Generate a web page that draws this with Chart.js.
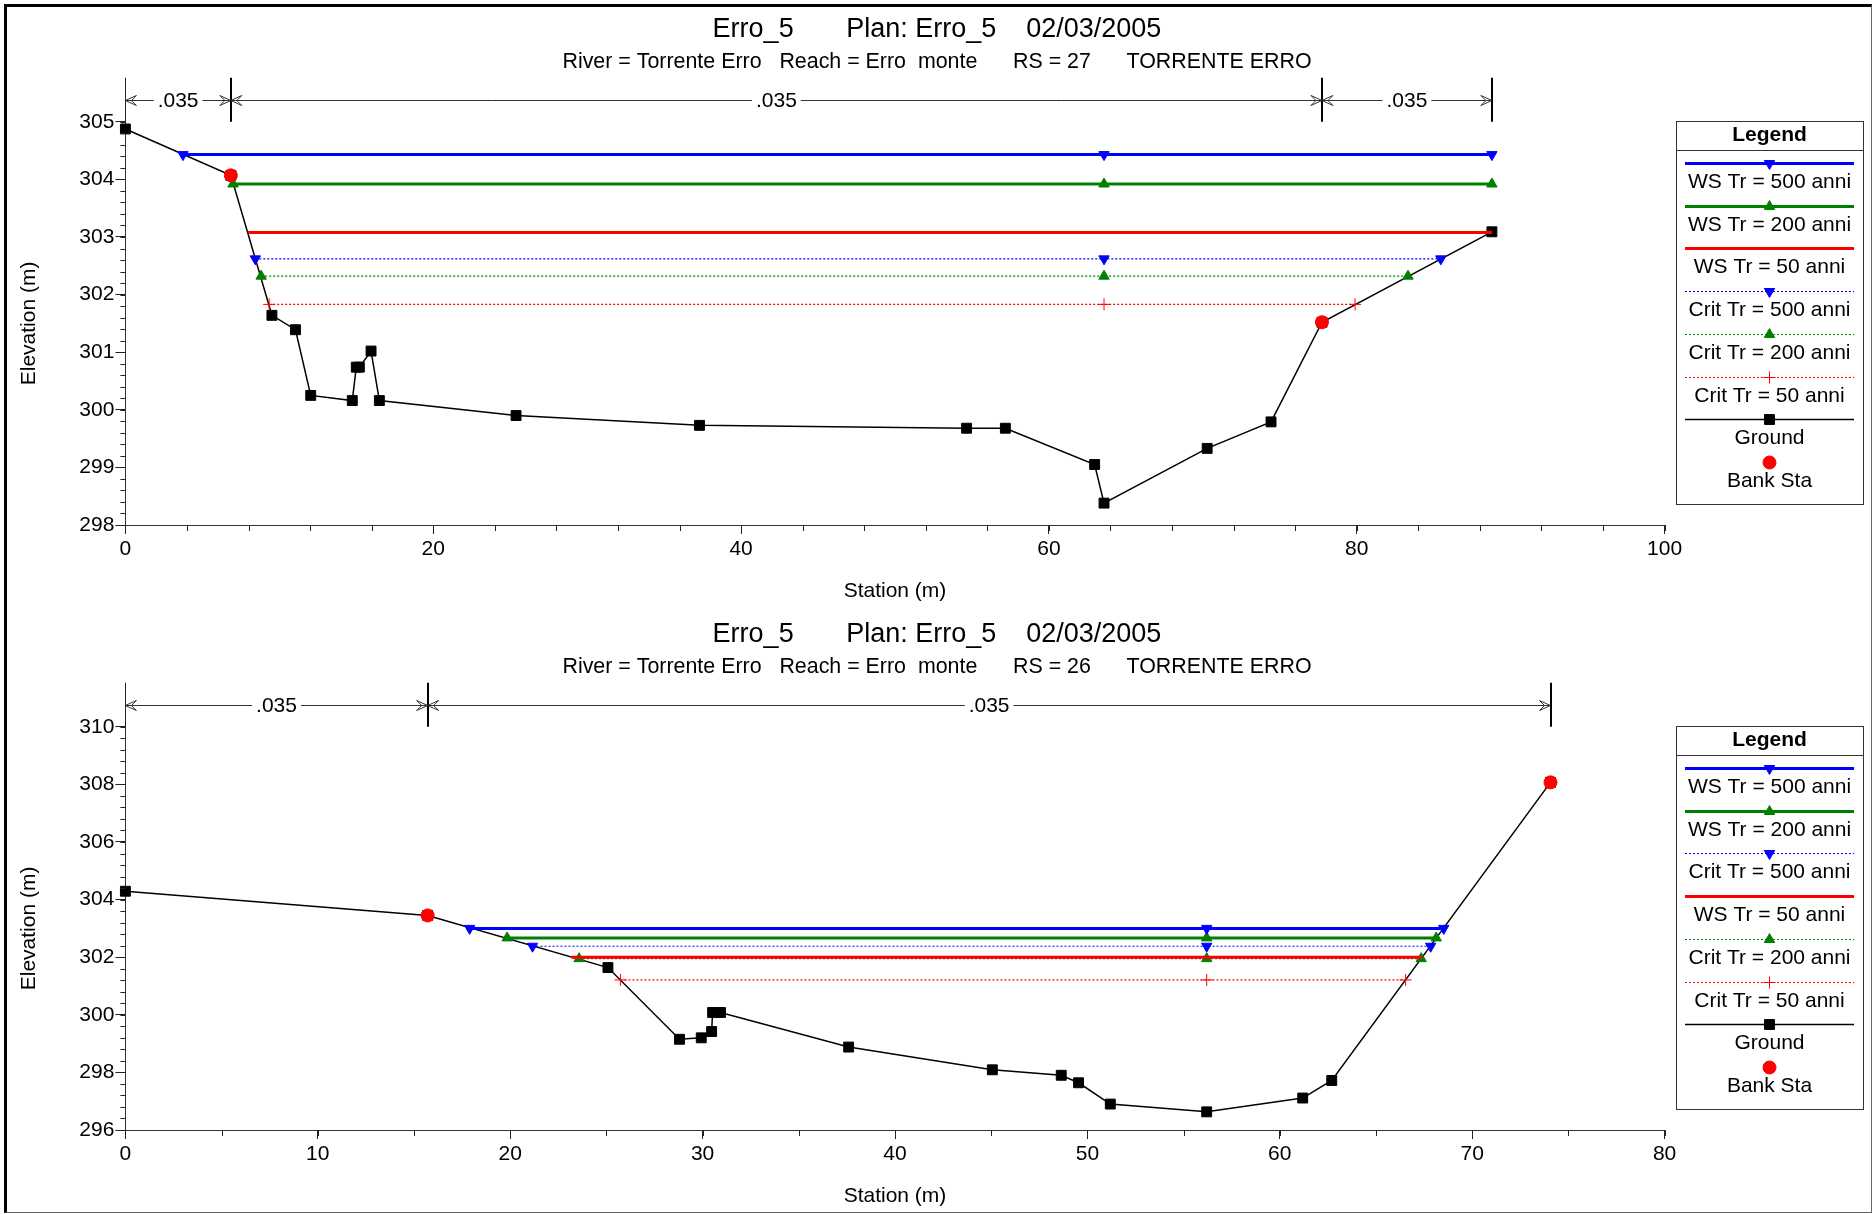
<!DOCTYPE html>
<html>
<head>
<meta charset="UTF-8">
<title>Erro_5 - sezioni</title>
<script src="https://cdn.jsdelivr.net/npm/chart.js"></script>
<style>
  body { margin: 0; background: #fff; }
  #page { position: relative; width: 1874px; height: 1214px; overflow: hidden; }
  #page canvas { position: absolute; left: 0; display: block; }
  #c27 { top: 0; }
  #c26 { top: 605px; }
  #frame { position: absolute; left: 4px; top: 4px; width: 1868px; height: 1209px; box-sizing: border-box;
           border-left: 3px solid #000; border-top: 3px solid #000;
           border-right: 1px solid #666; border-bottom: 1px solid #666; pointer-events: none; }
</style>
</head>
<body>
<div id="page">
  <canvas id="c27" width="1874" height="605"></canvas>
  <canvas id="c26" width="1874" height="605"></canvas>
  <div id="frame"></div>
</div>
<script>
// ---- RS = 27 ----
const ground27Sta  = [0, 6.85, 9.52, 11.05, 12.04, 14.74, 15.0, 15.2, 15.96, 16.5, 25.38, 37.3, 54.65, 57.17, 62.97, 63.58, 70.28, 74.43, 77.74, 88.78];
const ground27Elev = [304.875, 304.07, 301.64, 301.39, 300.25, 300.16, 300.74, 300.74, 301.02, 300.16, 299.90, 299.73, 299.68, 299.68, 299.05, 298.38, 299.33, 299.79, 301.52, 303.09];
const bank27Sta  = [6.85, 77.74];
const bank27Elev = [304.07, 301.52];
const ws27Names = ['WS Tr = 500 anni', 'WS Tr = 200 anni', 'WS Tr = 50 anni', 'Crit Tr = 500 anni', 'Crit Tr = 200 anni', 'Crit Tr = 50 anni'];
const ws27Elev  = [304.43, 303.92, 303.08, 302.62, 302.32, 301.83];
const ws27Left  = [3.74, 6.99, 7.95, 8.44, 8.82, 9.34];
const ws27Right = [88.78, 88.78, 88.78, 85.46, 83.33, 79.89];
const ws27Mid = 63.58;
const n27Sta = [0, 6.85, 77.74, 88.78];
const n27Val = ['.035', '.035', '.035'];

// ---- RS = 26 ----
const ground26Sta  = [0, 15.71, 25.08, 28.8, 29.93, 30.47, 30.52, 30.93, 37.59, 45.06, 48.64, 49.54, 51.19, 56.2, 61.19, 62.7, 74.07];
const ground26Elev = [304.29, 303.45, 301.64, 299.15, 299.2, 299.42, 300.08, 300.08, 298.88, 298.09, 297.90, 297.64, 296.90, 296.63, 297.11, 297.72, 308.07];
const bank26Sta  = [15.71, 74.07];
const bank26Elev = [303.45, 308.07];
const ws26Names = ['WS Tr = 500 anni', 'WS Tr = 200 anni', 'Crit Tr = 500 anni', 'WS Tr = 50 anni', 'Crit Tr = 200 anni', 'Crit Tr = 50 anni'];
const ws26Elev  = [303.0, 302.67, 302.38, 302.0, 301.95, 301.21];
const ws26Left  = [17.89, 19.84, 21.16, 23.18, 23.58, 25.73];
const ws26Right = [68.52, 68.13, 67.84, 67.4, 67.35, 66.54];
const ws26Mid = 56.2;
const n26Sta = [0, 15.71, 74.07];
const n26Val = ['.035', '.035'];

// stili delle linee
const wsStyle = {
  'WS Tr = 500 anni':   { color: '#0000ff', width: 3, dash: [],     point: 'triangle', rot: 180, r: 6 },
  'WS Tr = 200 anni':   { color: '#008000', width: 3, dash: [],     point: 'triangle', rot: 0,   r: 6 },
  'WS Tr = 50 anni':    { color: '#ff0000', width: 3, dash: [],     point: 'circle',   rot: 0,   r: 0 },
  'Crit Tr = 500 anni': { color: '#0000ff', width: 1.2, dash: [2, 2], point: 'triangle', rot: 180, r: 6 },
  'Crit Tr = 200 anni': { color: '#008000', width: 1.2, dash: [2, 2], point: 'triangle', rot: 0,   r: 6 },
  'Crit Tr = 50 anni':  { color: '#ff0000', width: 1.2, dash: [2, 2], point: 'cross',    rot: 0,   r: 6 }
};

const FONT = "'Liberation Sans', Arial, sans-serif";
Chart.defaults.font.family = FONT;
Chart.defaults.font.size = 21;
Chart.defaults.color = '#000';

function buildDatasets(names, elev, left, mid, right, gSta, gElev, bSta, bElev) {
  const ds = names.map((name, i) => {
    const st = wsStyle[name];
    return {
      label: name,
      data: [{ x: left[i], y: elev[i] }, { x: mid, y: elev[i] }, { x: right[i], y: elev[i] }],
      showLine: true,
      borderColor: st.color,
      borderWidth: st.width,
      borderDash: st.dash,
      pointStyle: st.point,
      pointRotation: st.rot,
      pointRadius: st.r,
      pointBackgroundColor: st.color,
      pointBorderColor: st.color,
      pointBorderWidth: 1,
      clip: false
    };
  });
  ds.push({
    label: 'Ground',
    data: gSta.map((s, i) => ({ x: s, y: gElev[i] })),
    showLine: true,
    borderColor: '#000',
    borderWidth: 1.5,
    pointStyle: 'rect',
    pointRadius: 7,
    pointBackgroundColor: '#000',
    pointBorderColor: '#000',
    pointBorderWidth: 1,
    clip: false
  });
  ds.push({
    label: 'Bank Sta',
    data: bSta.map((s, i) => ({ x: s, y: bElev[i] })),
    showLine: false,
    borderColor: '#ff0000',
    pointStyle: 'circle',
    pointRadius: 6.5,
    pointBackgroundColor: '#ff0000',
    pointBorderColor: '#ff0000',
    pointBorderWidth: 1,
    order: -1,
    clip: false
  });
  return ds;
}

// tacche secondarie, coefficienti di Manning, legenda
const hecPlugin = {
  id: 'hec',
  afterDraw(chart, args, o) {
    const ctx = chart.ctx, xs = chart.scales.x, ys = chart.scales.y, a = chart.chartArea;
    const ax = Math.round(a.left) + 0.5;
    ctx.save();
    ctx.lineWidth = 1;
    ctx.strokeStyle = '#222';
    ctx.beginPath();
    const nx = Math.round((xs.max - xs.min) / o.minorX);
    for (let i = 0; i <= nx; i++) {
      const px = Math.round(xs.getPixelForValue(xs.min + i * o.minorX)) + 0.5;
      ctx.moveTo(px, a.bottom); ctx.lineTo(px, a.bottom + 6);
    }
    const ny = Math.round((ys.max - ys.min) / o.minorY);
    for (let i = 0; i <= ny; i++) {
      const py = Math.round(ys.getPixelForValue(ys.min + i * o.minorY)) + 0.5;
      ctx.moveTo(a.left - 5, py); ctx.lineTo(a.left, py);
    }
    ctx.moveTo(ax, a.top); ctx.lineTo(ax, a.top - 44);
    ctx.stroke();

    // Manning n
    const yn = Math.round(a.top - 22) + 0.5;
    ctx.font = '21px ' + FONT;
    ctx.fillStyle = '#000';
    ctx.textAlign = 'center';
    ctx.textBaseline = 'middle';
    ctx.lineWidth = 2;
    ctx.strokeStyle = '#000';
    o.nSta.forEach((s, i) => {
      if (i === 0) return;
      const px = Math.round(xs.getPixelForValue(s));
      ctx.beginPath(); ctx.moveTo(px, a.top - 44); ctx.lineTo(px, a.top); ctx.stroke();
    });
    ctx.lineWidth = 1;
    ctx.strokeStyle = '#333';
    const arrow = (x, d) => {
      ctx.moveTo(x + d * 11, yn - 5); ctx.lineTo(x, yn); ctx.lineTo(x + d * 11, yn + 5);
      ctx.moveTo(x + d * 11, yn - 5); ctx.lineTo(x + d * 6, yn); ctx.lineTo(x + d * 11, yn + 5);
    };
    for (let i = 0; i < o.nVal.length; i++) {
      const x0 = xs.getPixelForValue(o.nSta[i]), x1 = xs.getPixelForValue(o.nSta[i + 1]);
      const mid = (x0 + x1) / 2, hw = ctx.measureText(o.nVal[i]).width / 2 + 4;
      ctx.beginPath();
      ctx.moveTo(x0, yn); ctx.lineTo(mid - hw, yn);
      ctx.moveTo(mid + hw, yn); ctx.lineTo(x1, yn);
      arrow(x0, 1); arrow(x1, -1);
      ctx.stroke();
      ctx.fillText(o.nVal[i], mid, yn + 1);
    }

    // legenda
    const L = { x: 1676, y: 121, w: 187, h: 383 };
    const cx = L.x + L.w / 2;
    ctx.lineWidth = 1;
    ctx.strokeStyle = '#333';
    ctx.strokeRect(L.x + 0.5, L.y + 0.5, L.w, L.h);
    ctx.beginPath(); ctx.moveTo(L.x, L.y + 29.5); ctx.lineTo(L.x + L.w, L.y + 29.5); ctx.stroke();
    ctx.font = 'bold 21px ' + FONT;
    ctx.fillText('Legend', cx, L.y + 14);
    ctx.font = '21px ' + FONT;
    chart.data.datasets.forEach((ds, i) => {
      const yl = Math.round(L.y + 42 + i * 42.7) + 0.5;
      if (ds.showLine) {
        ctx.save();
        ctx.strokeStyle = ds.borderColor;
        ctx.lineWidth = ds.borderWidth;
        ctx.setLineDash(ds.borderDash || []);
        ctx.beginPath(); ctx.moveTo(L.x + 9, yl); ctx.lineTo(L.x + L.w - 9, yl); ctx.stroke();
        ctx.restore();
      }
      if (ds.pointRadius > 0) {
        ctx.save();
        ctx.fillStyle = ds.pointBackgroundColor;
        ctx.strokeStyle = ds.pointBorderColor;
        ctx.lineWidth = ds.pointBorderWidth;
        Chart.helpers.drawPoint(ctx, {
          pointStyle: ds.pointStyle, rotation: ds.pointRotation || 0,
          radius: ds.pointRadius, borderWidth: ds.pointBorderWidth
        }, cx, yl);
        ctx.restore();
      }
      ctx.fillStyle = '#000';
      ctx.fillText(ds.label, cx, yl + 19);
    });
    ctx.restore();
  }
};

function makeChart(id, rs, datasets, xMax, xStep, yMin, yMax, yStep, minorX, minorY, nSta, nVal) {
  return new Chart(document.getElementById(id), {
    type: 'scatter',
    data: { datasets: datasets },
    plugins: [hecPlugin],
    options: {
      responsive: false,
      animation: false,
      events: [],
      devicePixelRatio: 1,
      layout: { padding: 0 },
      plugins: {
        legend: { display: false },
        tooltip: { enabled: false },
        title: {
          display: true,
          text: 'Erro_5       Plan: Erro_5    02/03/2005',
          font: { size: 27, weight: 'normal' },
          padding: { top: 13.3, bottom: 3.2 }
        },
        subtitle: {
          display: true,
          text: 'River = Torrente Erro   Reach = Erro  monte      RS = ' + rs + '      TORRENTE ERRO',
          font: { size: 21.4 },
          padding: { top: 0, bottom: 47.2 }
        },
        hec: { minorX: minorX, minorY: minorY, nSta: nSta, nVal: nVal }
      },
      scales: {
        x: {
          type: 'linear', min: 0, max: xMax,
          ticks: { stepSize: xStep, padding: 3, maxRotation: 0, autoSkip: false },
          grid: { drawOnChartArea: false, tickLength: 9, tickColor: '#222' },
          border: { color: '#333', width: 1 },
          title: { display: true, text: 'Station (m)', font: { size: 21 }, padding: { top: 0, bottom: 1 } },
          afterFit(s) { s.height = 80; }
        },
        y: {
          type: 'linear', position: 'left', min: yMin, max: yMax,
          ticks: { stepSize: yStep, padding: 1 },
          grid: { drawOnChartArea: false, tickLength: 10, tickColor: '#222' },
          border: { color: '#333', width: 1 },
          title: { display: true, text: 'Elevation (m)', font: { size: 21 }, padding: { top: 17, bottom: 0 } },
          afterFit(s) { s.width = 125.4; }
        },
        yPad: {
          type: 'linear', position: 'right', display: true,
          ticks: { display: false },
          grid: { display: false, drawTicks: false },
          border: { display: false },
          afterFit(s) { s.width = 209.4; }
        }
      }
    }
  });
}

makeChart('c27', 27,
  buildDatasets(ws27Names, ws27Elev, ws27Left, ws27Mid, ws27Right, ground27Sta, ground27Elev, bank27Sta, bank27Elev),
  100, 20, 298, 305, 1, 4, 0.2, n27Sta, n27Val);

makeChart('c26', 26,
  buildDatasets(ws26Names, ws26Elev, ws26Left, ws26Mid, ws26Right, ground26Sta, ground26Elev, bank26Sta, bank26Elev),
  80, 10, 296, 310, 2, 5, 0.4, n26Sta, n26Val);
</script>
</body>
</html>
